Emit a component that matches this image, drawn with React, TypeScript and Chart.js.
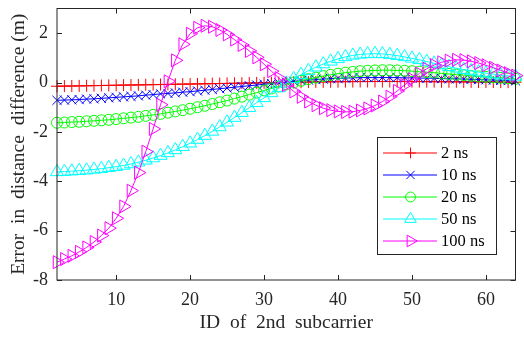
import React, { useEffect, useRef } from 'react';
import { Chart, registerables } from 'chart.js';

Chart.register(...registerables);

const subcarrierIds = [
  2, 3, 4, 5, 6, 7, 8, 9, 10, 11, 12, 13, 14, 15, 16, 17, 18, 19, 20, 21, 22, 23,
  24, 25, 26, 27, 28, 29, 30, 31, 32, 33, 34, 35, 36, 37, 38, 39, 40, 41, 42, 43,
  44, 45, 46, 47, 48, 49, 50, 51, 52, 53, 54, 55, 56, 57, 58, 59, 60, 61, 62, 63, 64,
];

const err2ns = [
  -0.15, -0.145, -0.14, -0.135, -0.13, -0.125, -0.12, -0.115, -0.11, -0.105, -0.1, -0.095,
  -0.09, -0.085, -0.08, -0.075, -0.07, -0.065, -0.06, -0.055, -0.05, -0.045, -0.04, -0.035,
  -0.03, -0.025, -0.02, -0.015, -0.01, -0.005, 0, 0.005, 0.01, 0.015, 0.02, 0.024, 0.028,
  0.031, 0.034, 0.036, 0.038, 0.04, 0.041, 0.042, 0.042, 0.042, 0.041, 0.04, 0.039, 0.038,
  0.036, 0.035, 0.033, 0.031, 0.029, 0.027, 0.025, 0.023, 0.021, 0.019, 0.017, 0.015, 0.013,
];

const err10ns = [
  -0.72, -0.71, -0.7, -0.69, -0.67, -0.66, -0.64, -0.62, -0.6, -0.58, -0.56, -0.54, -0.51,
  -0.49, -0.46, -0.44, -0.42, -0.39, -0.37, -0.34, -0.31, -0.28, -0.25, -0.22, -0.19, -0.16,
  -0.13, -0.1, -0.07, -0.04, -0.01, 0.02, 0.05, 0.08, 0.1, 0.12, 0.14, 0.16, 0.17, 0.18, 0.19,
  0.2, 0.2, 0.2, 0.2, 0.2, 0.2, 0.19, 0.19, 0.18, 0.18, 0.17, 0.16, 0.15, 0.15, 0.14, 0.13,
  0.12, 0.11, 0.1, 0.09, 0.08, 0.07,
];

const err20ns = [
  -1.63, -1.62, -1.6, -1.59, -1.57, -1.55, -1.53, -1.51, -1.48, -1.45, -1.42, -1.39, -1.35,
  -1.31, -1.27, -1.22, -1.17, -1.12, -1.06, -1.0, -0.94, -0.87, -0.8, -0.73, -0.65, -0.57,
  -0.49, -0.41, -0.32, -0.24, -0.16, -0.08, 0.0, 0.07, 0.14, 0.2, 0.26, 0.31, 0.36, 0.4, 0.43,
  0.46, 0.48, 0.49, 0.5, 0.5, 0.49, 0.48, 0.46, 0.44, 0.42, 0.4, 0.37, 0.35, 0.32, 0.3, 0.27,
  0.25, 0.23, 0.21, 0.19, 0.17, 0.15,
];

const err50ns = [
  -3.62, -3.61, -3.59, -3.57, -3.55, -3.52, -3.49, -3.45, -3.41, -3.36, -3.3, -3.23, -3.15,
  -3.06, -2.96, -2.85, -2.73, -2.6, -2.46, -2.31, -2.15, -1.98, -1.8, -1.61, -1.42, -1.22,
  -1.02, -0.82, -0.62, -0.42, -0.22, -0.03, 0.15, 0.32, 0.48, 0.62, 0.75, 0.86, 0.96, 1.04,
  1.1, 1.14, 1.16, 1.17, 1.16, 1.13, 1.09, 1.04, 0.98, 0.92, 0.85, 0.78, 0.71, 0.64, 0.58,
  0.52, 0.47, 0.42, 0.38, 0.34, 0.3, 0.27, 0.25,
];

const err100ns = [
  -7.28, -7.15, -7.02, -6.86, -6.68, -6.46, -6.2, -5.9, -5.5, -5.02, -4.38, -3.65, -2.8,
  -1.88, -0.9, 0.05, 0.9, 1.55, 1.98, 2.22, 2.3, 2.26, 2.13, 1.95, 1.74, 1.52, 1.28, 1.02,
  0.74, 0.46, 0.18, -0.1, -0.36, -0.58, -0.77, -0.92, -1.04, -1.12, -1.17, -1.19, -1.18,
  -1.13, -1.05, -0.93, -0.77, -0.57, -0.34, -0.1, 0.14, 0.37, 0.56, 0.71, 0.82, 0.89, 0.92,
  0.91, 0.86, 0.79, 0.7, 0.6, 0.49, 0.38, 0.28,
];

const seriesLabels = ['2 ns', '10 ns', '20 ns', '50 ns', '100 ns'];
const xTickValues = [10, 20, 30, 40, 50, 60];
const yTickValues = [-8, -6, -4, -2, 0, 2];
const xAxisTitle = 'ID  of  2nd  subcarrier';
const yAxisTitle = 'Error  in  distance  difference (m)';

const SERIF = "'Liberation Serif', 'Times New Roman', serif";
const AXIS_COLOR = '#262626';

type MarkerStyle = 'cross' | 'crossRot' | 'circle' | 'triangle';

const seriesStyles: { color: string; style: MarkerStyle; radius: number; rotation: number }[] = [
  { color: '#ff0000', style: 'cross', radius: 6, rotation: 0 },
  { color: '#0000ff', style: 'crossRot', radius: 6.5, rotation: 0 },
  { color: '#00ff00', style: 'circle', radius: 5.5, rotation: 0 },
  { color: '#00ffff', style: 'triangle', radius: 7.5, rotation: 0 },
  { color: '#ff00ff', style: 'triangle', radius: 7.5, rotation: 90 },
];

function drawMarker(
  ctx: CanvasRenderingContext2D,
  style: MarkerStyle,
  x: number,
  y: number,
  r: number,
  rotationDeg: number,
  color: string,
) {
  ctx.save();
  ctx.strokeStyle = color;
  ctx.lineWidth = 1;
  ctx.beginPath();
  if (style === 'cross') {
    ctx.moveTo(x - r, y);
    ctx.lineTo(x + r, y);
    ctx.moveTo(x, y - r);
    ctx.lineTo(x, y + r);
  } else if (style === 'crossRot') {
    const d = r * Math.SQRT1_2;
    ctx.moveTo(x - d, y - d);
    ctx.lineTo(x + d, y + d);
    ctx.moveTo(x - d, y + d);
    ctx.lineTo(x + d, y - d);
  } else if (style === 'circle') {
    ctx.arc(x, y, r, 0, Math.PI * 2);
  } else {
    let rad = (rotationDeg * Math.PI) / 180;
    ctx.moveTo(x + Math.sin(rad) * r, y - Math.cos(rad) * r);
    rad += (2 * Math.PI) / 3;
    ctx.lineTo(x + Math.sin(rad) * r, y - Math.cos(rad) * r);
    rad += (2 * Math.PI) / 3;
    ctx.lineTo(x + Math.sin(rad) * r, y - Math.cos(rad) * r);
    ctx.closePath();
  }
  ctx.stroke();
  ctx.restore();
}

const framePlugin = {
  id: 'matlabFrame',
  afterDraw(chart: any) {
    const { ctx, chartArea } = chart;
    const { left, right, top, bottom } = chartArea;
    const xs = chart.scales.x;
    const ys = chart.scales.y;
    ctx.save();
    ctx.strokeStyle = AXIS_COLOR;
    ctx.lineWidth = 1;
    ctx.strokeRect(left, top, right - left, bottom - top);
    ctx.beginPath();
    const tl = 5;
    xTickValues.forEach((v) => {
      const px = Math.round(xs.getPixelForValue(v)) + 0.5;
      ctx.moveTo(px, bottom);
      ctx.lineTo(px, bottom - tl);
      ctx.moveTo(px, top);
      ctx.lineTo(px, top + tl);
    });
    yTickValues.forEach((v) => {
      const py = Math.round(ys.getPixelForValue(v)) + 0.5;
      ctx.moveTo(left, py);
      ctx.lineTo(left + tl, py);
      ctx.moveTo(right, py);
      ctx.lineTo(right - tl, py);
    });
    ctx.stroke();

    // legend box
    const boxLeft = 377.5;
    const boxTop = 137.5;
    const boxW = 119;
    const boxH = 117;
    ctx.fillStyle = '#ffffff';
    ctx.fillRect(boxLeft, boxTop, boxW, boxH);
    ctx.strokeStyle = AXIS_COLOR;
    ctx.strokeRect(boxLeft, boxTop, boxW, boxH);
    ctx.font = `16.5px ${SERIF}`;
    ctx.textBaseline = 'middle';
    ctx.textAlign = 'left';
    seriesLabels.forEach((label, i) => {
      const st = seriesStyles[i];
      const ry = 153 + 22 * i;
      ctx.strokeStyle = st.color;
      ctx.lineWidth = 1;
      ctx.beginPath();
      ctx.moveTo(383, ry);
      ctx.lineTo(437, ry);
      ctx.stroke();
      drawMarker(ctx, st.style, 410.5, ry, st.radius * 0.9, st.rotation, st.color);
      ctx.fillStyle = '#000000';
      ctx.fillText(label, 441, ry + 1);
    });
    ctx.restore();
  },
};

const seriesValues = [err2ns, err10ns, err20ns, err50ns, err100ns];

export default function App() {
  const ref = useRef<HTMLCanvasElement>(null);

  useEffect(() => {
    document.body.style.margin = '0';
    const canvas = ref.current;
    if (!canvas) return;
    const datasets = seriesValues.map((vals, i) => {
      const st = seriesStyles[i];
      return {
        label: seriesLabels[i],
        data: subcarrierIds.map((x, j) => ({ x, y: vals[j] })),
        borderColor: st.color,
        backgroundColor: 'rgba(0,0,0,0)',
        borderWidth: 1,
        pointStyle: st.style,
        pointRadius: st.radius,
        pointHoverRadius: st.radius,
        pointRotation: st.rotation,
        pointBorderColor: st.color,
        pointBackgroundColor: 'rgba(0,0,0,0)',
        pointBorderWidth: 1,
        tension: 0,
        fill: false,
        clip: false as any,
        order: seriesValues.length - i,
      };
    });

    const chart = new Chart(canvas, {
      type: 'line',
      data: { datasets: datasets as any },
      options: {
        responsive: false,
        animation: false,
        devicePixelRatio: 1,
        events: [],
        layout: { padding: { top: 6, right: 1, left: 0, bottom: 0 } },
        plugins: {
          legend: { display: false },
          tooltip: { enabled: false },
        },
        scales: {
          x: {
            type: 'linear',
            min: 2,
            max: 64,
            afterBuildTicks: (s: any) => {
              s.ticks = xTickValues.map((v) => ({ value: v }));
            },
            afterFit: (s: any) => {
              s.height = 59;
              s.paddingLeft = 0;
              s.paddingRight = 0;
              s.paddingTop = 0;
              s.paddingBottom = 0;
            },
            grid: { display: false, drawTicks: false },
            border: { display: false },
            ticks: {
              padding: 9,
              color: AXIS_COLOR,
              font: { family: SERIF, size: 18 },
              maxRotation: 0,
              autoSkip: false,
            },
            title: {
              display: true,
              text: xAxisTitle,
              color: AXIS_COLOR,
              font: { family: SERIF, size: 19.5 },
              padding: { top: 0, bottom: 4 },
            },
          },
          y: {
            type: 'linear',
            min: -8,
            max: 3,
            afterBuildTicks: (s: any) => {
              s.ticks = yTickValues.map((v) => ({ value: v }));
            },
            afterFit: (s: any) => {
              s.width = 57;
              s.paddingLeft = 0;
              s.paddingRight = 0;
              s.paddingTop = 0;
              s.paddingBottom = 0;
            },
            grid: { display: false, drawTicks: false },
            border: { display: false },
            ticks: {
              padding: 9,
              color: AXIS_COLOR,
              font: { family: SERIF, size: 18 },
              autoSkip: false,
            },
            title: {
              display: true,
              text: yAxisTitle,
              color: AXIS_COLOR,
              font: { family: SERIF, size: 19.5 },
              padding: { top: 7, bottom: 0 },
            },
          },
        },
      },
      plugins: [framePlugin],
    });
    return () => chart.destroy();
  }, []);

  return (
    <div style={{ width: 524, height: 339 }}>
      <canvas ref={ref} width={524} height={339} style={{ display: 'block', width: 524, height: 339 }} />
    </div>
  );
}
